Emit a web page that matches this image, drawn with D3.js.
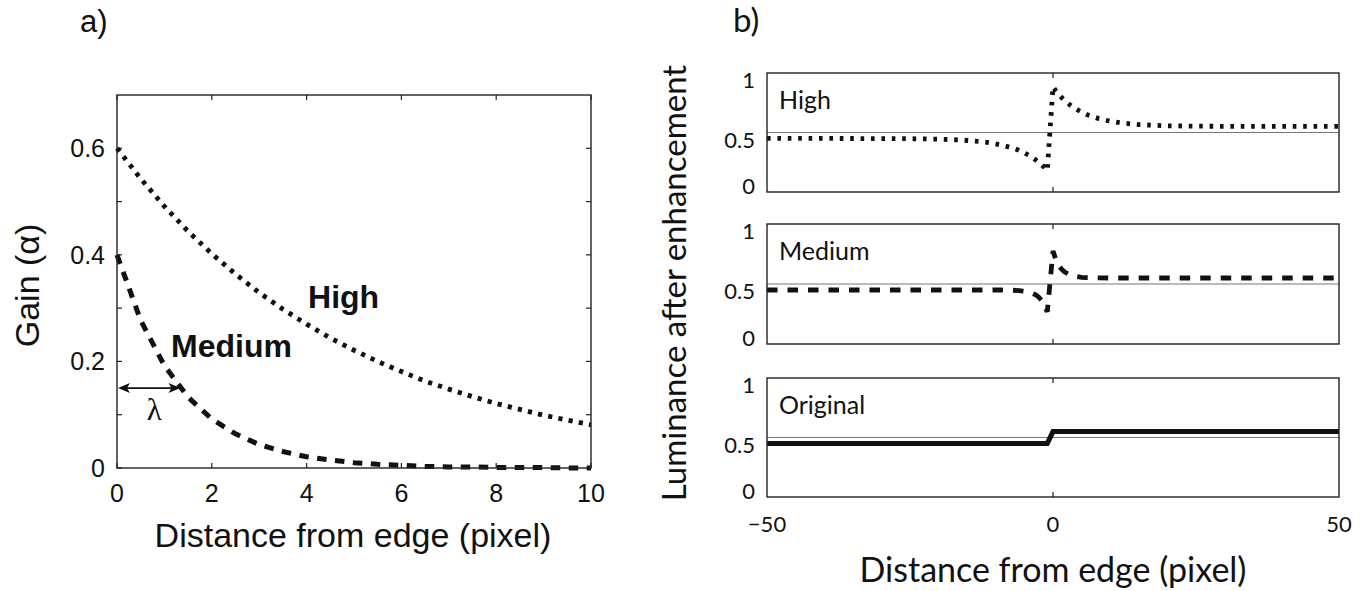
<!DOCTYPE html>
<meta charset="utf-8">
<style>
    body {
        margin: 0;
        background: #fff;
    }

    svg text {
        fill: #111;
    }

    .ttl {
        font-family: 'Liberation Sans', Arial, sans-serif;
    }

    .rt {
        font-family: 'Lato', 'Liberation Sans', sans-serif;
    }
</style>
<script src="https://d3js.org/d3.v7.min.js"></script>
<div id="graph"></div>
<script>
    // panel a) gain vs distance from edge
    const gainX = [0, 0.5, 1, 1.5, 2, 2.5, 3, 3.5, 4, 4.5, 5, 5.5, 6, 6.5, 7, 7.5, 8, 8.5, 9, 9.5, 10];
    const gainHigh = [0.600, 0.543, 0.491, 0.444, 0.402, 0.364, 0.329, 0.298, 0.270, 0.244, 0.221,
        0.200, 0.181, 0.163, 0.148, 0.134, 0.121, 0.110, 0.099, 0.090, 0.081];
    const gainMedium = [0.400, 0.277, 0.192, 0.133, 0.092, 0.064, 0.044, 0.031, 0.021, 0.015, 0.010,
        0.007, 0.005, 0.003, 0.002, 0.002, 0.001, 0.001, 0.001, 0.000, 0.000];
    const gainTicksX = [0, 2, 4, 6, 8, 10];
    const gainTicksY = [0, 0.2, 0.4, 0.6];
    const gainMinorY = [0, 0.1, 0.2, 0.3, 0.4, 0.5, 0.6];
    const lambdaPx = 1.36, lambdaGain = 0.15;

    // panel b) luminance profiles, left and right of the edge
    const lumLeftX = [-50, -40, -30, -25, -20, -16, -13, -11, -9, -7, -6, -5, -4, -3, -2.5, -2, -1.5, -1];
    const lumRightX = [0, 0.5, 1, 1.5, 2, 3, 4, 5, 6, 8, 10, 12, 15, 20, 25, 30, 40, 50];
    const highLeft = [0.450, 0.450, 0.449, 0.448, 0.444, 0.437, 0.426, 0.413, 0.395, 0.369, 0.351,
        0.329, 0.302, 0.269, 0.250, 0.229, 0.206, 0.180];
    const highRight = [0.885, 0.849, 0.820, 0.794, 0.771, 0.731, 0.698, 0.671, 0.649, 0.617, 0.595,
        0.580, 0.566, 0.556, 0.553, 0.552, 0.552, 0.552];
    const mediumLeft = [0.450, 0.450, 0.450, 0.450, 0.450, 0.450, 0.450, 0.450, 0.450, 0.448, 0.445,
        0.440, 0.430, 0.409, 0.390, 0.364, 0.325, 0.268];
    const mediumRight = [0.775, 0.702, 0.656, 0.623, 0.601, 0.574, 0.562, 0.556, 0.553, 0.551, 0.550,
        0.550, 0.550, 0.550, 0.550, 0.550, 0.550, 0.550];
    const origX = [-50, -1, 0, 50];
    const origY = [0.45, 0.45, 0.55, 0.55];
    const lumTicksY = [0, 0.5, 1];
    const lumTicksX = [-50, 0, 50];
    const refLevel = 0.5;

    const W = 1371, H = 591;
    const svg = d3.select("#graph").append("svg")
        .attr("width", W).attr("height", H)
        .style("background", "#fff");

    const zip = (xs, ys) => xs.map((x, i) => [x, ys[i]]);

    // ---------- a) ----------
    const ax = {left: 117, right: 591, top: 95, bottom: 468};
    const x = d3.scaleLinear().domain([0, 10]).range([ax.left, ax.right]);
    const y = d3.scaleLinear().domain([0, 0.7]).range([ax.bottom, ax.top]);

    const ga = svg.append("g");
    const tick = 5;
    gainTicksX.forEach(v => {
        ga.append("line").attr("x1", x(v)).attr("x2", x(v)).attr("y1", ax.bottom).attr("y2", ax.bottom - tick)
            .attr("stroke", "#222").attr("stroke-width", 1.2);
        ga.append("line").attr("x1", x(v)).attr("x2", x(v)).attr("y1", ax.top).attr("y2", ax.top + tick)
            .attr("stroke", "#222").attr("stroke-width", 1.2);
        ga.append("text").attr("class", "ttl").attr("x", x(v)).attr("y", ax.bottom + 34)
            .attr("text-anchor", "middle").attr("font-size", 25).text(v);
    });
    gainMinorY.forEach(v => {
        ga.append("line").attr("x1", ax.left).attr("x2", ax.left + tick).attr("y1", y(v)).attr("y2", y(v))
            .attr("stroke", "#222").attr("stroke-width", 1.2);
        ga.append("line").attr("x1", ax.right).attr("x2", ax.right - tick).attr("y1", y(v)).attr("y2", y(v))
            .attr("stroke", "#222").attr("stroke-width", 1.2);
    });
    gainTicksY.forEach(v => {
        ga.append("text").attr("class", "ttl").attr("x", ax.left - 12).attr("y", y(v) + 9)
            .attr("text-anchor", "end").attr("font-size", 25).text(v);
    });

    const lineA = d3.line().x(d => x(d[0])).y(d => y(d[1]));
    ga.append("path").attr("d", lineA(zip(gainX, gainHigh)))
        .attr("fill", "none").attr("stroke", "#111").attr("stroke-width", 4.8)
        .attr("stroke-dasharray", "4.2 6.2");
    ga.append("path").attr("d", lineA(zip(gainX, gainMedium)))
        .attr("fill", "none").attr("stroke", "#111").attr("stroke-width", 5)
        .attr("stroke-dasharray", "9.5 8.5");

    ga.append("rect").attr("x", ax.left).attr("y", ax.top)
        .attr("width", ax.right - ax.left).attr("height", ax.bottom - ax.top)
        .attr("fill", "none").attr("stroke", "#222").attr("stroke-width", 1.4);

    // lambda arrow
    const ay = y(lambdaGain), a0 = x(0), a1 = x(lambdaPx);
    ga.append("line").attr("x1", a0 + 4).attr("x2", a1 - 4).attr("y1", ay).attr("y2", ay)
        .attr("stroke", "#111").attr("stroke-width", 1.8);
    ga.append("path").attr("d", `M${a0 + 1},${ay}L${a0 + 13},${ay - 5}L${a0 + 10},${ay}L${a0 + 13},${ay + 5}Z`)
        .attr("fill", "#111");
    ga.append("path").attr("d", `M${a1 - 1},${ay}L${a1 - 13},${ay - 5}L${a1 - 10},${ay}L${a1 - 13},${ay + 5}Z`)
        .attr("fill", "#111");
    ga.append("text").attr("x", (a0 + a1) / 2 + 5).attr("y", ay + 32)
        .attr("text-anchor", "middle").attr("font-family", "'Liberation Serif', serif")
        .attr("font-size", 31).text("λ");

    ga.append("text").attr("class", "ttl").attr("x", x(4.03)).attr("y", y(0.30))
        .attr("font-size", 32).attr("font-weight", "bold").text("High");
    ga.append("text").attr("class", "ttl").attr("x", x(1.14)).attr("y", y(0.208))
        .attr("font-size", 32).attr("font-weight", "bold").text("Medium");

    ga.append("text").attr("class", "ttl").attr("x", (ax.left + ax.right) / 2 - 1).attr("y", 547)
        .attr("text-anchor", "middle").attr("font-size", 34).text("Distance from edge (pixel)");
    ga.append("text").attr("class", "ttl")
        .attr("transform", `translate(39,${(ax.top + ax.bottom) / 2 + 4})rotate(-90)`)
        .attr("text-anchor", "middle").attr("font-size", 34).text("Gain (α)");
    ga.append("text").attr("class", "ttl").attr("x", 80).attr("y", 32)
        .attr("font-size", 31).text("a)");

    // ---------- b) ----------
    const bx = d3.scaleLinear().domain([-50, 50]).range([767, 1339]);
    const panels = [
        {name: "High", top: 73, bottom: 192, left: highLeft, right: highRight, dash: "3.6 6.8", sw: 4.8},
        {name: "Medium", top: 224, bottom: 344, left: mediumLeft, right: mediumRight, dash: "10.5 10", sw: 4.8},
        {name: "Original", top: 378, bottom: 497}
    ];

    const gb = svg.append("g");
    panels.forEach((p, k) => {
        const py = d3.scaleLinear().domain([0, 1]).range([p.bottom, p.top]);
        const g = gb.append("g");
        const lineB = d3.line().x(d => bx(d[0])).y(d => py(d[1]));

        g.append("line").attr("x1", bx(-50)).attr("x2", bx(50)).attr("y1", py(refLevel)).attr("y2", py(refLevel))
            .attr("stroke", "#777").attr("stroke-width", 1.2);

        if (p.left) {
            const pts = zip(lumLeftX, p.left).concat(zip(lumRightX, p.right));
            g.append("path").attr("d", lineB(pts))
                .attr("fill", "none").attr("stroke", "#111").attr("stroke-width", p.sw)
                .attr("stroke-dasharray", p.dash);
        } else {
            g.append("path").attr("d", lineB(zip(origX, origY)))
                .attr("fill", "none").attr("stroke", "#111").attr("stroke-width", 5);
        }

        g.append("rect").attr("x", bx(-50)).attr("y", p.top)
            .attr("width", bx(50) - bx(-50)).attr("height", p.bottom - p.top)
            .attr("fill", "none").attr("stroke", "#222").attr("stroke-width", 1.4);
        g.append("line").attr("x1", bx(0)).attr("x2", bx(0)).attr("y1", p.top).attr("y2", p.top + 5)
            .attr("stroke", "#222").attr("stroke-width", 1.2);
        g.append("line").attr("x1", bx(0)).attr("x2", bx(0)).attr("y1", p.bottom).attr("y2", p.bottom - 5)
            .attr("stroke", "#222").attr("stroke-width", 1.2);

        lumTicksY.forEach(v => {
            g.append("text").attr("class", "rt").attr("x", bx(-50) - 12)
                .attr("y", py(v) + (v === 0 ? 2 : 15))
                .attr("text-anchor", "end").attr("font-size", 22).text(v);
        });

        g.append("text").attr("class", "rt").attr("x", 779).attr("y", p.top + 36)
            .attr("font-size", 25).text(p.name);

        if (k === panels.length - 1) {
            lumTicksX.forEach(v => {
                g.append("text").attr("class", "rt").attr("x", bx(v)).attr("y", p.bottom + 35)
                    .attr("text-anchor", "middle").attr("font-size", 22)
                    .text(v < 0 ? "\u2212" + Math.abs(v) : v);
            });
        }
    });

    gb.append("text").attr("class", "rt").attr("x", bx(0)).attr("y", 582)
        .attr("text-anchor", "middle").attr("font-size", 34).text("Distance from edge (pixel)");
    gb.append("text").attr("class", "rt")
        .attr("transform", `translate(686,283)rotate(-90)`)
        .attr("text-anchor", "middle").attr("font-size", 33).text("Luminance after enhancement");
    gb.append("text").attr("class", "rt").attr("x", 733).attr("y", 32)
        .attr("font-size", 33).text("b)");
</script>
